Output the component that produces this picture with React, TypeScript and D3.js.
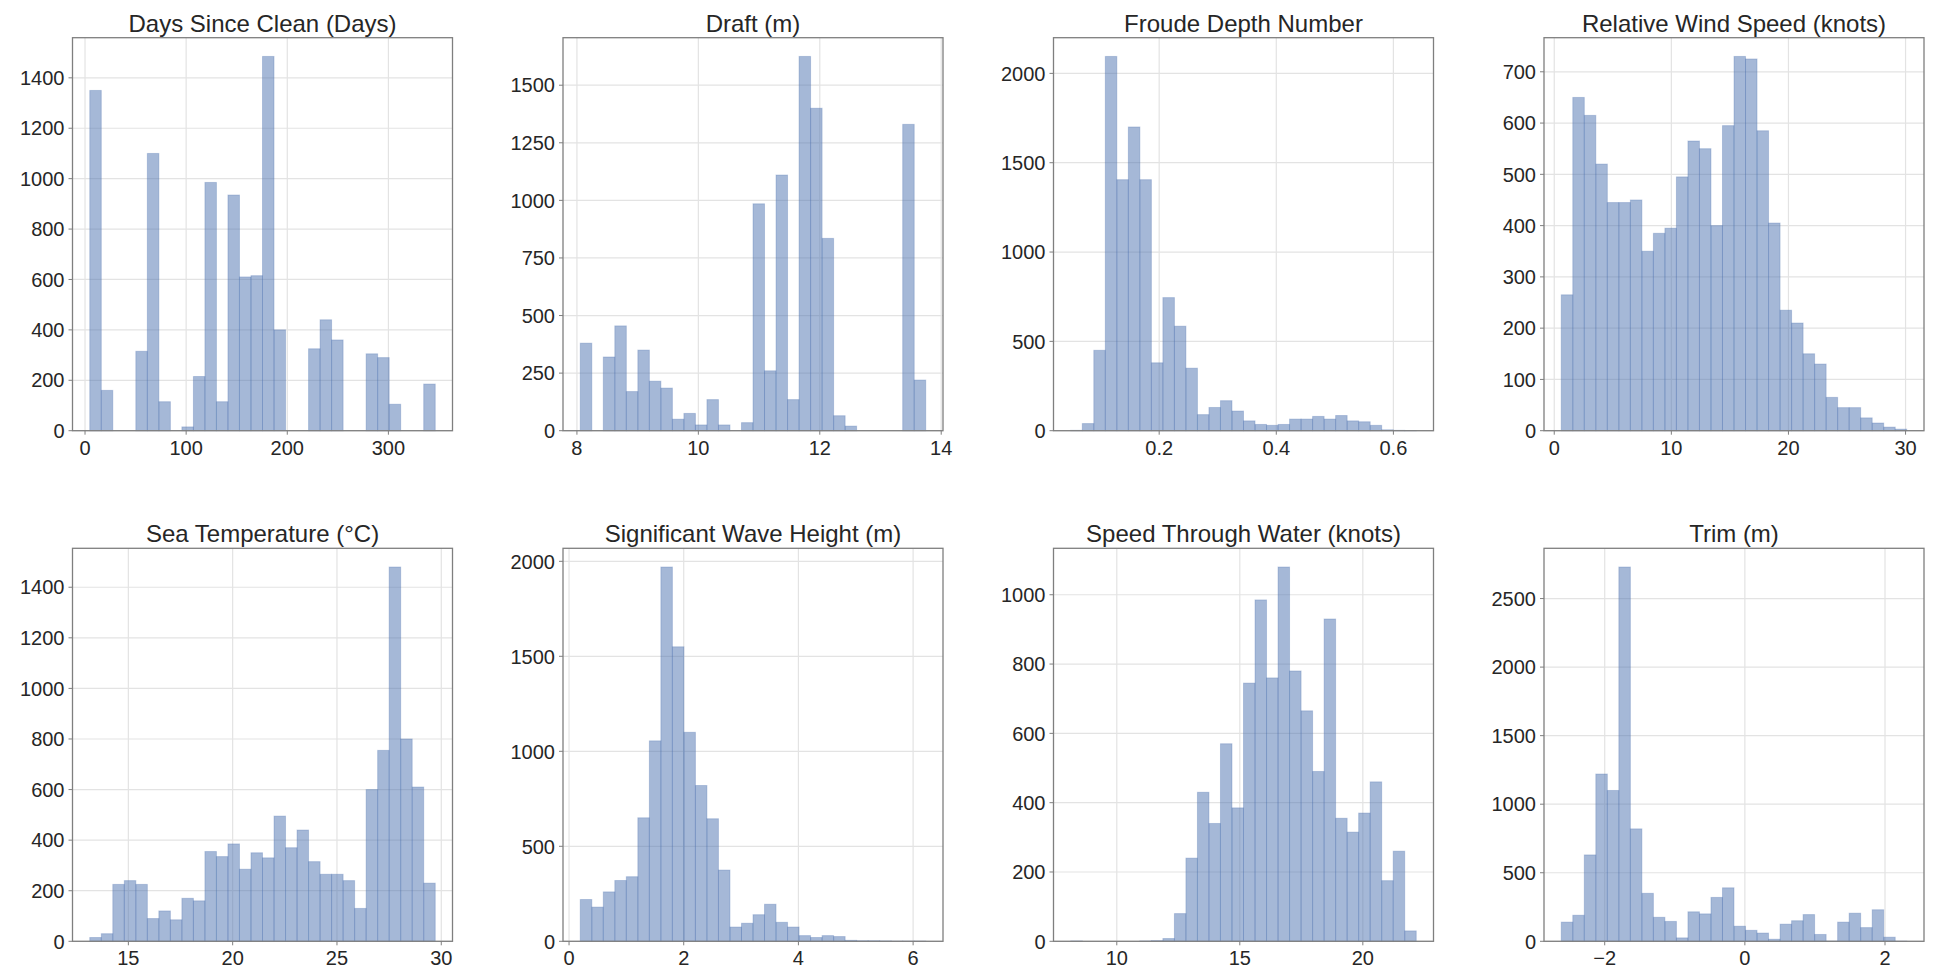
import React from 'react'
import * as d3 from 'd3'

// panel titles and value ranges (min, max of each column)
const titles = [
  'Days Since Clean (Days)',
  'Draft (m)',
  'Froude Depth Number',
  'Relative Wind Speed (knots)',
  'Sea Temperature (°C)',
  'Significant Wave Height (m)',
  'Speed Through Water (knots)',
  'Trim (m)',
]

const ranges: [number, number][] = [
  [4.7, 346.3],
  [8.055, 13.745],
  [0.049, 0.639],
  [0.6, 30.1],
  [13.15, 29.71],
  [0.196, 6.22],
  [8.13, 22.17],
  [-2.62, 2.31],
]

// 30-bin histogram counts
const daysCounts = [1350, 160, 0, 0, 315, 1100, 115, 0, 15, 215, 985, 115, 935, 610, 615, 1485, 400, 0, 0, 325, 440, 360, 0, 0, 305, 290, 105, 0, 0, 185]
const draftCounts = [380, 0, 320, 455, 170, 350, 215, 185, 50, 75, 25, 135, 25, 0, 35, 985, 260, 1110, 135, 1625, 1400, 835, 65, 20, 0, 0, 0, 0, 1330, 220]
const froudeCounts = [2, 40, 450, 2095, 1405, 1700, 1405, 380, 745, 585, 350, 90, 130, 168, 110, 55, 35, 30, 35, 65, 65, 80, 65, 85, 55, 50, 30, 5, 2, 1]
const windCounts = [265, 650, 615, 520, 445, 445, 450, 350, 385, 395, 495, 565, 550, 400, 595, 730, 725, 585, 405, 235, 210, 150, 130, 65, 45, 45, 25, 15, 7, 3]
const seaTempCounts = [15, 30, 225, 240, 225, 90, 120, 85, 170, 160, 355, 335, 385, 285, 350, 330, 495, 370, 440, 315, 265, 265, 240, 130, 600, 755, 1480, 800, 610, 230]
const waveCounts = [220, 180, 260, 320, 340, 650, 1055, 1970, 1550, 1100, 820, 645, 375, 75, 95, 140, 195, 100, 75, 30, 20, 30, 25, 5, 3, 3, 2, 1, 1, 1]
const stwCounts = [1, 0, 0, 0, 0, 0, 1, 2, 8, 80, 240, 430, 340, 570, 385, 745, 985, 760, 1080, 780, 665, 490, 930, 355, 315, 370, 460, 175, 260, 30]
const trimCounts = [140, 190, 630, 1220, 1100, 2730, 820, 350, 175, 145, 25, 215, 200, 320, 390, 110, 80, 60, 15, 125, 150, 195, 50, 2, 140, 205, 100, 230, 30, 1]

const counts = [daysCounts, draftCounts, froudeCounts, windCounts, seaTempCounts, waveCounts, stwCounts, trimCounts]

// tick values
const xTicks = [
  [0, 100, 200, 300],
  [8, 10, 12, 14],
  [0.2, 0.4, 0.6],
  [0, 10, 20, 30],
  [15, 20, 25, 30],
  [0, 2, 4, 6],
  [10, 15, 20],
  [-2, 0, 2],
]
const yTicks = [
  [0, 200, 400, 600, 800, 1000, 1200, 1400],
  [0, 250, 500, 750, 1000, 1250, 1500],
  [0, 500, 1000, 1500, 2000],
  [0, 100, 200, 300, 400, 500, 600, 700],
  [0, 200, 400, 600, 800, 1000, 1200, 1400],
  [0, 500, 1000, 1500, 2000],
  [0, 200, 400, 600, 800, 1000],
  [0, 500, 1000, 1500, 2000, 2500],
]

const W = 1937
const H = 973
const panelW = 380
const panelH = 393
const lefts = [72.5, 563, 1053.5, 1544]
const tops = [37.7, 548.3]
const font = '"Liberation Sans", Arial, Helvetica, sans-serif'
const frameColor = '#7f7f7f'
const gridColor = '#e3e3e3'
const textColor = '#262626'

const fmtX = (v: number) => String(v).replace('-', '\u2212')

const Hist = ({ left, top, title, range, data, xt, yt }) => {
  const [lo, hi] = range
  const pad = (hi - lo) * 0.05
  const x = d3.scaleLinear().domain([lo - pad, hi + pad]).range([0, panelW])
  const y = d3.scaleLinear().domain([0, (d3.max(data) as number) * 1.05]).range([panelH, 0])
  const step = (hi - lo) / data.length
  const bins = data.map((c, i) => ({ x0: lo + i * step, x1: lo + (i + 1) * step, c }))

  return (
    <g transform={`translate(${left},${top})`}>
      {xt.map((t) => (
        <line key={'gx' + t} x1={x(t)} x2={x(t)} y1={0} y2={panelH} stroke={gridColor} strokeWidth={1.2} />
      ))}
      {yt.map((t) => (
        <line key={'gy' + t} x1={0} x2={panelW} y1={y(t)} y2={y(t)} stroke={gridColor} strokeWidth={1.2} />
      ))}
      {bins.map((b, i) =>
        b.c > 0 ? (
          <rect
            key={i}
            x={x(b.x0)}
            y={y(b.c)}
            width={x(b.x1) - x(b.x0)}
            height={panelH - y(b.c)}
            fill="rgba(76,114,176,0.5)"
            stroke="rgba(76,114,176,0.3)"
            strokeWidth={1}
          />
        ) : null
      )}
      <rect x={0} y={0} width={panelW} height={panelH} fill="none" stroke={frameColor} strokeWidth={1.3} />
      {xt.map((t) => (
        <g key={'tx' + t} transform={`translate(${x(t)},${panelH})`}>
          <line y1={0} y2={4} stroke={frameColor} strokeWidth={1} />
          <text y={9} dy="0.76em" textAnchor="middle" fontSize={20} fill={textColor}>
            {fmtX(t)}
          </text>
        </g>
      ))}
      {yt.map((t) => (
        <g key={'ty' + t} transform={`translate(0,${y(t)})`}>
          <line x1={0} x2={-4} stroke={frameColor} strokeWidth={1} />
          <text x={-8} dy="0.36em" textAnchor="end" fontSize={20} fill={textColor}>
            {t}
          </text>
        </g>
      ))}
      <text x={panelW / 2} y={-6} textAnchor="middle" fontSize={24} fill={textColor}>
        {title}
      </text>
    </g>
  )
}

const App = () => (
  <svg
    width={W}
    height={H}
    style={{ position: 'absolute', left: 0, top: 0, background: '#fff' }}
    fontFamily={font}
  >
    {titles.map((t, i) => (
      <Hist
        key={t}
        left={lefts[i % 4]}
        top={tops[Math.floor(i / 4)]}
        title={t}
        range={ranges[i]}
        data={counts[i]}
        xt={xTicks[i]}
        yt={yTicks[i]}
      />
    ))}
  </svg>
)

export default App
